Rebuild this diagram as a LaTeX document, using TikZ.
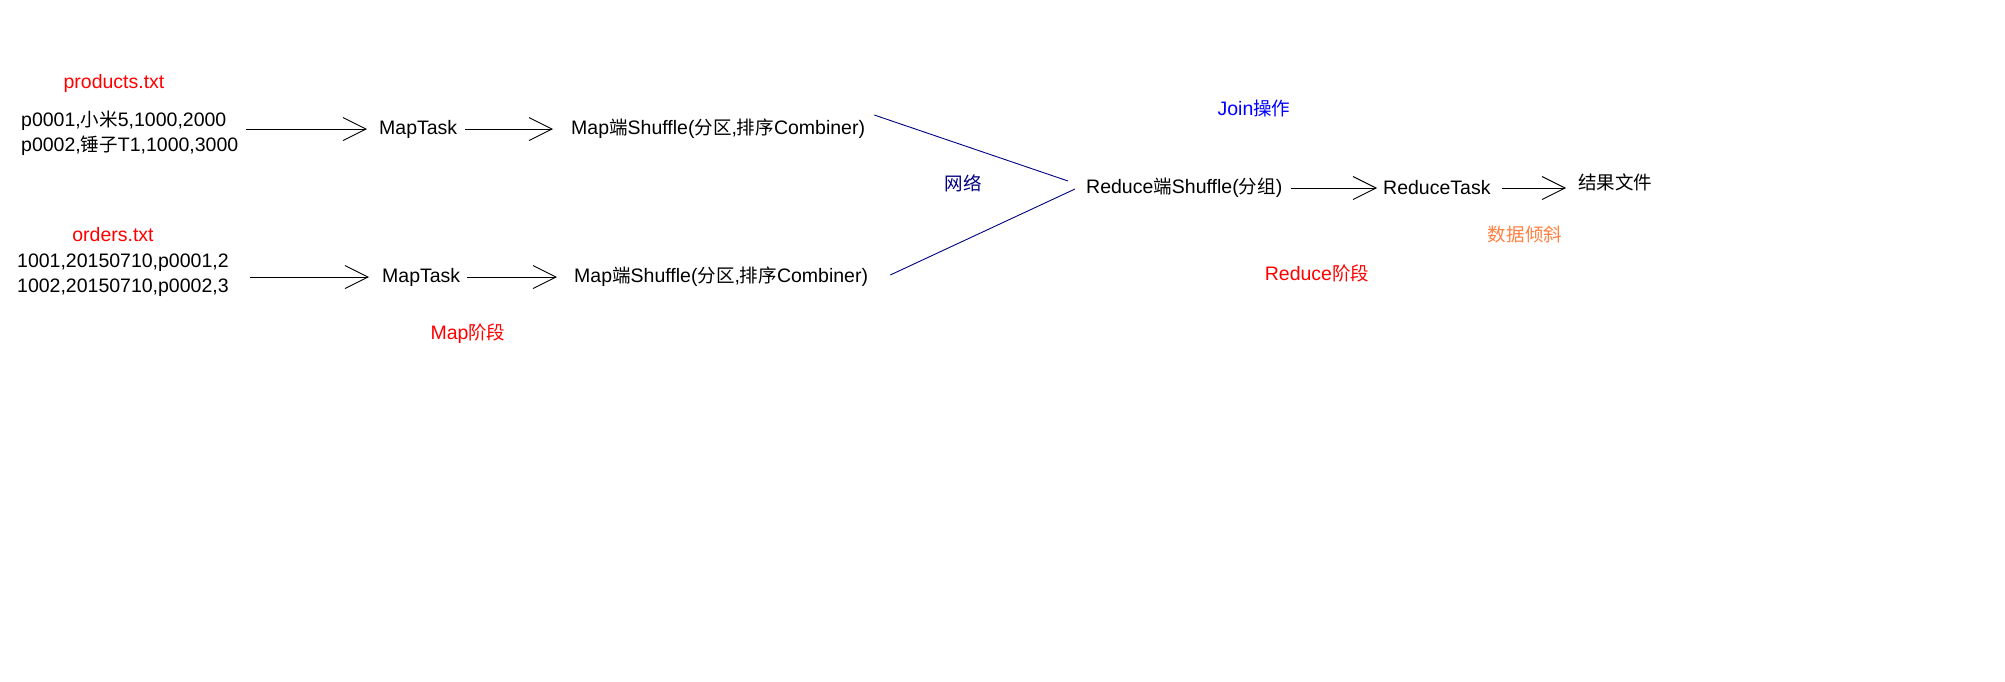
\documentclass[tikz,border=0pt]{standalone}
\usepackage{fontspec}
\setmainfont{Liberation Sans}
\newfontfamily\cjk{Noto Sans CJK SC}[Scale=0.95]
\usetikzlibrary{arrows.meta}
\definecolor{netblue}{RGB}{0,0,128}
\definecolor{skeworange}{RGB}{255,128,64}

\begin{document}
\begin{tikzpicture}[x=1pt,y=-1pt,
  every node/.style={font=\fontsize{19.5pt}{25pt}\selectfont, inner sep=0pt},
  flow/.style={-{Straight Barb[length=23pt,width=23pt]}, line width=0.9pt},
  netline/.style={netblue, line width=0.9pt}]
  \useasboundingbox (0,0) rectangle (2005,681);

  % products side
  \node[red] (prodfile) at (114,83) {products.txt};
  \node[align=left, anchor=west] (proddata) at (21,133) {p0001,{\cjk 小米}5,1000,2000\\p0002,{\cjk 锤子}T1,1000,3000};
  \node[anchor=west] (maptask1) at (379,129) {MapTask};
  \node[anchor=west] (mapshuffle1) at (571,129) {Map{\cjk 端}Shuffle({\cjk 分区},{\cjk 排序}Combiner)};
  \draw[flow] ([xshift=8pt]proddata.east |- maptask1.west) -- ([xshift=-12pt]maptask1.west);
  \draw[flow] ([xshift=8pt]maptask1.east) -- ([xshift=-18pt]maptask1.east -| mapshuffle1.west);

  % orders side
  \node[red] (ordfile) at (113,235) {orders.txt};
  \node[align=left, anchor=west] (orddata) at (17,275) {1001,20150710,p0001,2\\1002,20150710,p0002,3};
  \node[anchor=west] (maptask2) at (382,277) {MapTask};
  \node[anchor=west] (mapshuffle2) at (574,277) {Map{\cjk 端}Shuffle({\cjk 分区},{\cjk 排序}Combiner)};
  \draw[flow] ([xshift=21pt]orddata.east |- maptask2.west) -- ([xshift=-13pt]maptask2.west);
  \draw[flow] ([xshift=7pt]maptask2.east) -- ([xshift=-17pt]maptask2.east -| mapshuffle2.west);
  \node[red] (mapphase) at (468,334) {Map{\cjk 阶段}};

  % network
  \node[netblue] (network) at (963,183) {\cjk 网络};
  \node[blue] (joinop) at (1254,108) {Join{\cjk 操作}};

  % reduce side
  \node[anchor=west] (redshuffle) at (1086,188) {Reduce{\cjk 端}Shuffle({\cjk 分组})};
  \node[anchor=west] (redtask) at (1383,188) {ReduceTask};
  \node[anchor=west] (result) at (1578,182) {\cjk 结果文件};
  \draw[netline] ([shift={(9,-14)}]mapshuffle1.east) -- ([shift={(-18,-7)}]redshuffle.west);
  \draw[netline] ([shift={(22,-2)}]mapshuffle2.east) -- ([shift={(-11,1)}]redshuffle.west);
  \draw[flow] ([xshift=8pt]redshuffle.east |- redtask.west) -- ([xshift=-6pt]redtask.west);
  \draw[flow] ([xshift=11pt]redtask.east) -- ([xshift=-12pt]redtask.east -| result.west);
  \node[skeworange] (skew) at (1525,234) {\cjk 数据倾斜};
  \node[red] (redphase) at (1317,273) {Reduce{\cjk 阶段}};
\end{tikzpicture}
\end{document}
